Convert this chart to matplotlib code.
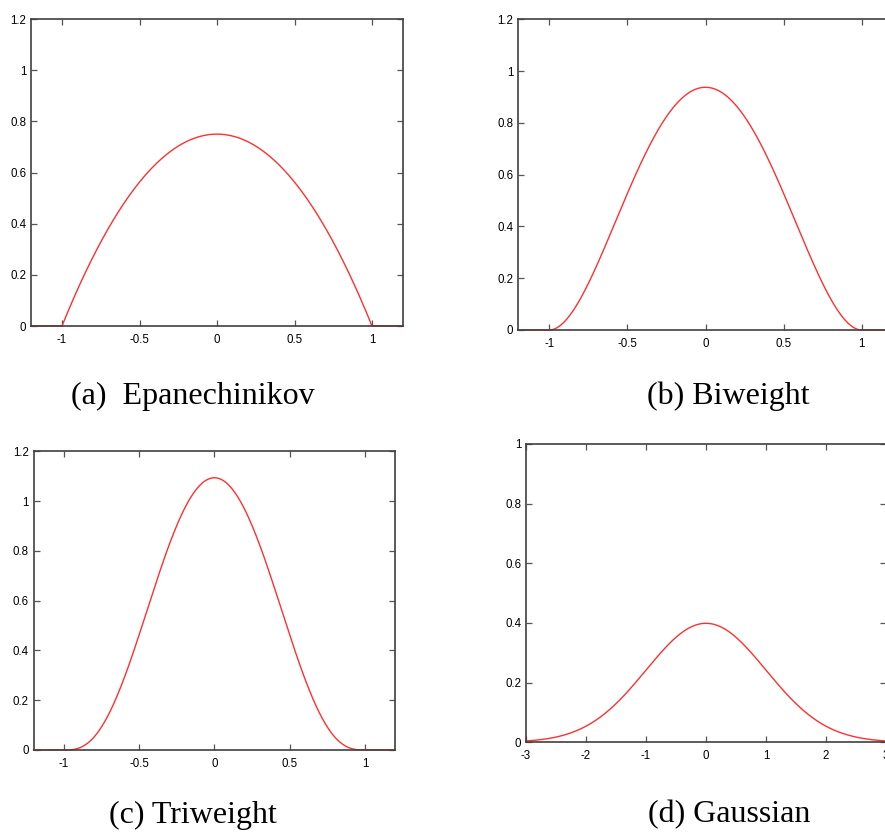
import numpy as np
import matplotlib
matplotlib.use("Agg")
import matplotlib.pyplot as plt

# kernel shapes: peak value at 0 and power of (1 - u^2) on [-1, 1]
names = ["(a)  Epanechinikov", "(b) Biweight", "(c) Triweight", "(d) Gaussian"]
peaks = [0.75, 0.9375, 1.09375, 0.3989]
powers = [1, 2, 3, None]  # None -> gaussian
xlims = [(-1.2, 1.2), (-1.2, 1.2), (-1.2, 1.2), (-3, 3)]
ylims = [(0, 1.2), (0, 1.2), (0, 1.2), (0, 1)]
xticks = [[-1, -0.5, 0, 0.5, 1]] * 3 + [[-3, -2, -1, 0, 1, 2, 3]]
xticklabels = [["-1", "-0.5", "0", "0.5", "1"]] * 3 + [["-3", "-2", "-1", "0", "1", "2", "3"]]
yticks = [[0, 0.2, 0.4, 0.6, 0.8, 1, 1.2]] * 3 + [[0, 0.2, 0.4, 0.6, 0.8, 1]]
yticklabels = [["0", "0.2", "0.4", "0.6", "0.8", "1", "1.2"]] * 3 + [["0", "0.2", "0.4", "0.6", "0.8", "1"]]

W, H = 885, 833
# axes boxes in pixels: left, top, right, bottom
boxes = [(31, 19, 403, 326), (518, 19.3, 893, 330),
         (33.5, 451.3, 395.3, 750), (526, 444, 886, 742.3)]
captions = [(193, 396), (728, 396), (193, 815), (729, 815)]

fig = plt.figure(figsize=(W / 100, H / 100), dpi=100)

def kernel(x, peak, p):
    if p is None:
        return peak * np.exp(-x ** 2 / 2)
    return np.where(np.abs(x) <= 1, peak * np.clip(1 - x ** 2, 0, None) ** p, 0)

for i in range(4):
    l, t, r, b = boxes[i]
    ax = fig.add_axes([l / W, 1 - b / H, (r - l) / W, (b - t) / H])
    x = np.linspace(xlims[i][0], xlims[i][1], 600)
    ax.plot(x, kernel(x, peaks[i], powers[i]), color="#ff3030", lw=1.0, clip_on=False)
    ax.set_xlim(*xlims[i])
    ax.set_ylim(*ylims[i])
    ax.set_xticks(xticks[i])
    ax.set_xticklabels(xticklabels[i])
    ax.set_yticks(yticks[i])
    ax.set_yticklabels(yticklabels[i])
    ax.tick_params(direction="in", length=4.5, width=0.9, color="#555555",
                   top=True, right=True, labelsize=8.3, pad=3.5)
    ax.tick_params(axis="x", pad=5.5)
    for s in ax.spines.values():
        s.set_color("#404040")
        s.set_linewidth(1.2)
    for lab in ax.get_xticklabels() + ax.get_yticklabels():
        lab.set_family("Liberation Sans")
    cx, cy = captions[i]
    fig.text(cx / W, 1 - cy / H, names[i], ha="center", va="center",
             family="Liberation Serif", fontsize=23)

fig.savefig("out.png", dpi=100)
